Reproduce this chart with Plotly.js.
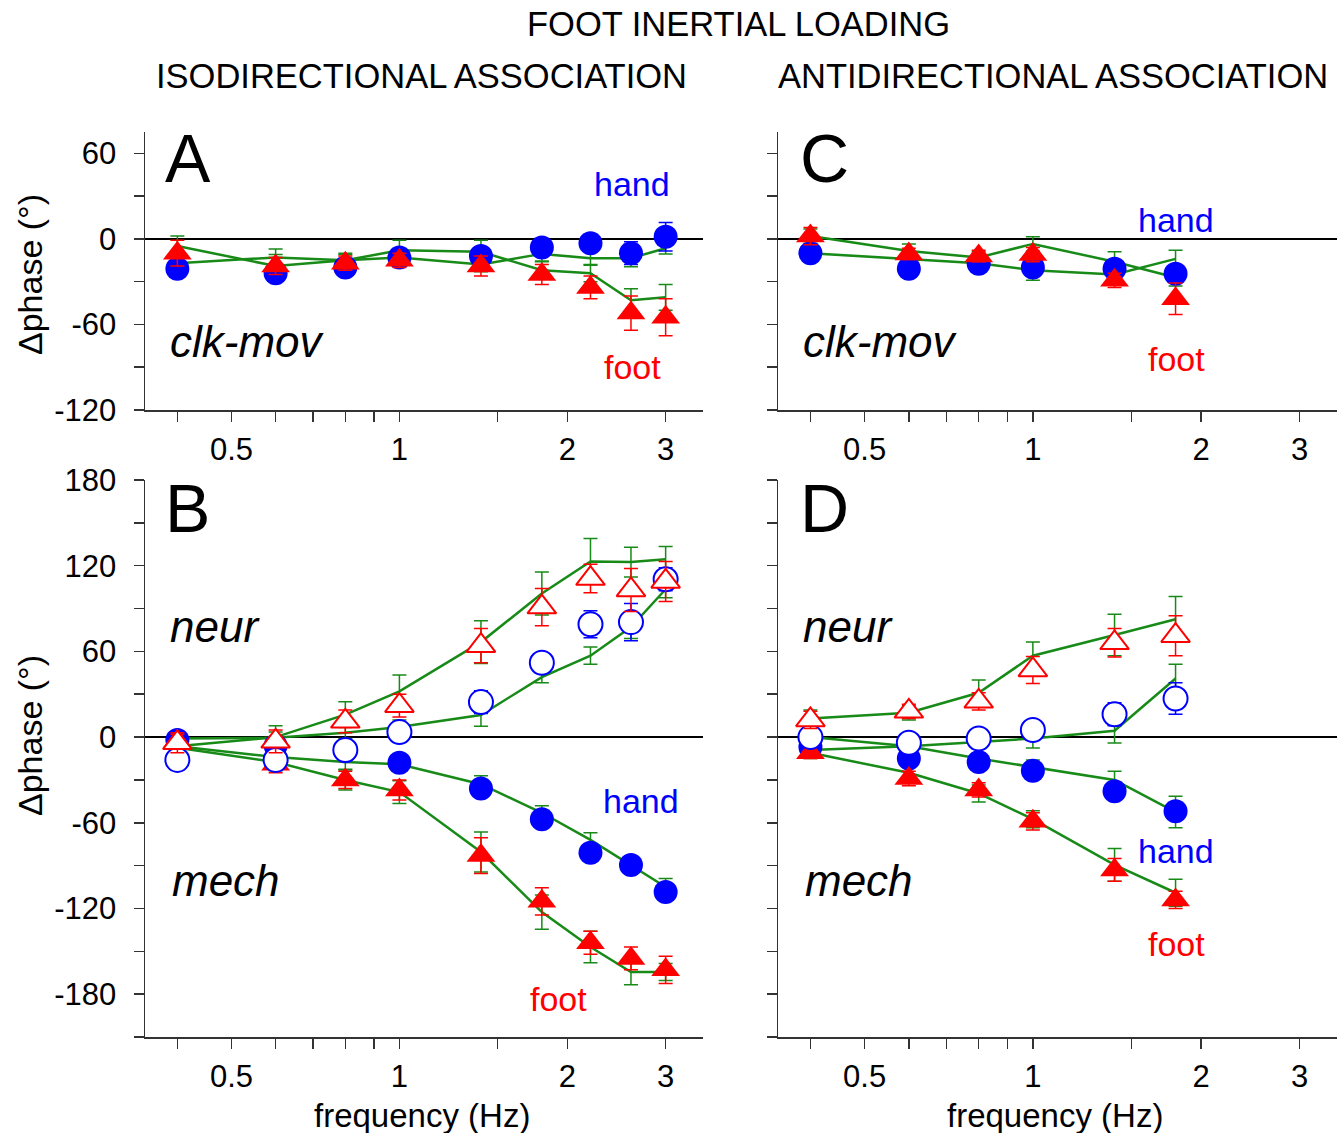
<!DOCTYPE html>
<html>
<head>
<meta charset="utf-8">
<script src="https://cdn.plot.ly/plotly-3.0.1.min.js"></script>
<style>html,body{margin:0;padding:0;background:#fff;}#chart{width:1342px;height:1133px;}</style>
</head>
<body>
<div id="chart"></div>
<script>
// ---------------- DATA ----------------
const freqIso = [0.4, 0.6, 0.8, 1.0, 1.4, 1.8, 2.2, 2.6, 3.0];
const freqAnti = [0.4, 0.6, 0.8, 1.0, 1.4, 1.8];

// Panel A: isodirectional, clk-mov
const A_hand = [-21, -24, -20, -13, -12, -6, -3, -10, 1.5];
const A_handErr = [4, 4, 4, 4, 5, 5, 5, 8, 10];
const A_foot = [-10, -19, -17, -15, -19, -25, -34, -52, -55];
const A_footErr = [9, 6, 5, 5, 7, 7, 8, 12, 13];
const A_handGreen = [-17, -13, -15, -13, -18, -10.5, -13.5, -13.5, -6.5];
const A_handGreenErr = [5, 6, 4, 5, 5, 5, 5, 6, 4];
const A_footGreen = [-5, -19, -15, -8, -9, -22, -24, -43, -41];
const A_footGreenErr = [7, 8, 5, 7, 8, 6, 6, 8, 9];

// Panel C: antidirectional, clk-mov
const C_hand = [-10, -21, -17.5, -20, -21, -24.5];
const C_handErr = [3, 4, 4, 6, 5, 5];
const C_foot = [2, -10.5, -12, -11, -29, -42];
const C_footErr = [6, 4, 4, 5, 5, 11];
const C_handGreen = [-10, -14, -17, -22, -25, -14];
const C_handGreenErr = [4, 4, 4, 7, 5, 6];
const C_footGreen = [2, -8.5, -13, -3.5, -16, -27];
const C_footGreenErr = [5, 5, 4, 5, 7, 6];

// Panel B: isodirectional, neur (open) and mech (filled)
const B_footNeur = [-4, -3, 11, 22, 64, 91, 111, 103, 109];
const B_footNeurErr = [7, 8, 8, 8, 12, 13, 10, 15, 14];
const B_handNeur = [-16, -16, -9, 3.5, 24.5, 52, 79, 80.5, 110.5];
const B_handNeurErr = [5, 5, 5, 5, 8, 6, 9.5, 13, 8];
const B_footNeurGreen = [-6.5, 0, 15.7, 32, 66.5, 100.5, 123, 122.5, 124.5];
const B_footNeurGreenErr = [8, 8, 9, 11.5, 15, 15, 16, 10.5, 9];
const B_handNeurGreen = [-1, -0.5, 3, 7, 15.5, 42, 57, 77, 103.5];
const B_handNeurGreenErr = [4, 4, 4, 5, 8, 4, 6, 8, 6];
const B_handMech = [-2, -6, -10, -18, -36, -57.5, -81, -89.5, -108.5];
const B_handMechErr = [4, 4, 4, 4, 5, 5, 5, 5, 5];
const B_handMechGreen = [-6.5, -14, -17.5, -19, -33, -53, -72, -90, -105];
const B_handMechGreenErr = [5, 5, 5, 5, 6, 5, 5, 6, 6];
const B_footMech = [-3, -19, -30, -37, -83, -115, -144, -155, -163];
const B_footMechErr = [5, 6, 6, 7, 12.5, 9.5, 8, 8, 9.5];
const B_footMechGreen = [-7.5, -17.5, -30, -38.5, -80.5, -122.5, -147, -164.5, -164.5];
const B_footMechGreenErr = [6, 6, 7, 8, 14, 12, 11, 9, 6];

// Panel D: antidirectional, neur and mech
const D_footNeur = [12, 18, 25, 47, 66, 71];
const D_footNeurErr = [6, 5, 6, 9.5, 10, 14];
const D_handNeur = [0, -4, -1, 5, 16, 27];
const D_handNeurErr = [4, 4, 4, 4, 8, 11];
const D_footNeurGreen = [13, 17, 31, 57, 71.5, 82.5];
const D_footNeurGreenErr = [6, 5, 9, 9.5, 14.5, 16];
const D_handNeurGreen = [-9, -6.5, -3.5, -1, 4.4, 41];
const D_handNeurGreenErr = [4, 4, 4, 6.6, 8.5, 10];
const D_handMech = [-7, -15, -17.5, -23.5, -38, -52];
const D_handMechErr = [4, 4, 5, 5, 5, 5];
const D_handMechGreen = [0, -6.5, -15, -21, -30, -52.5];
const D_handMechGreenErr = [4, 4, 4, 5, 6, 11];
const D_footMech = [-11, -29, -37, -59, -93, -114];
const D_footMechErr = [4, 5, 5, 6, 8, 6];
const D_footMechGreen = [-11, -25, -39.5, -57.5, -89.5, -109];
const D_footMechGreenErr = [4, 4, 6, 6, 11.5, 9.5];

// tick labels
const xTickVals = [0.4, 0.5, 0.6, 0.7, 0.8, 0.9, 1, 1.5, 2, 3];
const xTickText = ['', '0.5', '', '', '', '', '1', '', '2', '3'];
const yTickValsTop = [-120, -90, -60, -30, 0, 30, 60];
const yTickTextTop = ['-120', '', '-60', '', '0', '', '60'];
const yTickValsBot = [-210, -180, -150, -120, -90, -60, -30, 0, 30, 60, 90, 120, 150, 180];
const yTickTextBot = ['', '-180', '', '-120', '', '-60', '', '0', '', '60', '', '120', '', '180'];

// ---------------- STYLE ----------------
const BLUE = '#0000ff', RED = '#ff0000', GREEN = '#178a17';
const W = 1342, H = 1133;
const px = x => x / W;
const py = y => 1 - y / H;
const FONT = 'Liberation Sans, Arial, sans-serif';

function green(x, y, e, xa, ya) {
  return {type: 'scatter', mode: 'lines', x: x, y: y, xaxis: xa, yaxis: ya,
    line: {color: GREEN, width: 2.5}, hoverinfo: 'skip',
    error_y: {type: 'data', array: e, visible: true, color: GREEN, thickness: 1.5, width: 7}};
}
function marks(x, y, e, xa, ya, sym, col, open) {
  const isTri = sym === 'triangle-up';
  return {type: 'scatter', mode: 'markers', x: x, y: y, xaxis: xa, yaxis: ya,
    marker: {symbol: sym, size: isTri ? 25 : 24, color: open ? '#ffffff' : col,
      line: {color: col, width: open ? 2 : 0}},
    error_y: {type: 'data', array: e, visible: true, color: col, thickness: 1.5, width: 7}};
}

const traces = [
  // A
  green(freqIso, A_handGreen, A_handGreenErr, 'x', 'y'),
  green(freqIso, A_footGreen, A_footGreenErr, 'x', 'y'),
  marks(freqIso, A_hand, A_handErr, 'x', 'y', 'circle', BLUE, false),
  marks(freqIso, A_foot, A_footErr, 'x', 'y', 'triangle-up', RED, false),
  // C
  green(freqAnti, C_handGreen, C_handGreenErr, 'x2', 'y2'),
  green(freqAnti, C_footGreen, C_footGreenErr, 'x2', 'y2'),
  marks(freqAnti, C_hand, C_handErr, 'x2', 'y2', 'circle', BLUE, false),
  marks(freqAnti, C_foot, C_footErr, 'x2', 'y2', 'triangle-up', RED, false),
  // B
  green(freqIso, B_footNeurGreen, B_footNeurGreenErr, 'x3', 'y3'),
  green(freqIso, B_handNeurGreen, B_handNeurGreenErr, 'x3', 'y3'),
  green(freqIso, B_handMechGreen, B_handMechGreenErr, 'x3', 'y3'),
  green(freqIso, B_footMechGreen, B_footMechGreenErr, 'x3', 'y3'),
  marks(freqIso, B_handMech, B_handMechErr, 'x3', 'y3', 'circle', BLUE, false),
  marks(freqIso, B_footMech, B_footMechErr, 'x3', 'y3', 'triangle-up', RED, false),
  marks(freqIso, B_handNeur, B_handNeurErr, 'x3', 'y3', 'circle', BLUE, true),
  marks(freqIso, B_footNeur, B_footNeurErr, 'x3', 'y3', 'triangle-up', RED, true),
  // D
  green(freqAnti, D_footNeurGreen, D_footNeurGreenErr, 'x4', 'y4'),
  green(freqAnti, D_handNeurGreen, D_handNeurGreenErr, 'x4', 'y4'),
  green(freqAnti, D_handMechGreen, D_handMechGreenErr, 'x4', 'y4'),
  green(freqAnti, D_footMechGreen, D_footMechGreenErr, 'x4', 'y4'),
  marks(freqAnti, D_handMech, D_handMechErr, 'x4', 'y4', 'circle', BLUE, false),
  marks(freqAnti, D_footMech, D_footMechErr, 'x4', 'y4', 'triangle-up', RED, false),
  marks(freqAnti, D_handNeur, D_handNeurErr, 'x4', 'y4', 'circle', BLUE, true),
  marks(freqAnti, D_footNeur, D_footNeurErr, 'x4', 'y4', 'triangle-up', RED, true)
];

function xax(domain, anchor) {
  return {type: 'log', domain: domain, anchor: anchor,
    range: [Math.log10(0.35), Math.log10(3.5)],
    tickmode: 'array', tickvals: xTickVals, ticktext: xTickText,
    ticks: 'outside', ticklen: 10, tickwidth: 1.5, tickcolor: '#333',
    showline: true, linecolor: '#333', linewidth: 1.5,
    showgrid: false, zeroline: false, ticklabelstandoff: 1,
    tickfont: {family: FONT, size: 31, color: '#000'}, fixedrange: true};
}
function yax(domain, anchor, range, vals, text, showLabels) {
  return {domain: domain, anchor: anchor, range: range,
    tickmode: 'array', tickvals: vals, ticktext: text, showticklabels: showLabels,
    ticks: 'outside', ticklen: 10, tickwidth: 1.5, tickcolor: '#333',
    showline: true, linecolor: '#333', linewidth: 1.5,
    showgrid: false, zeroline: true, zerolinecolor: '#000', zerolinewidth: 1.2,
    ticklabelstandoff: 11,
    tickfont: {family: FONT, size: 31, color: '#000'}, fixedrange: true};
}

const xLeft = [px(145), px(703)], xRight = [px(778), px(1337)];
const yTop = [py(410), py(132)], yBot = [py(1037), py(480)];

function ann(text, x, y, size, opts) {
  return Object.assign({text: text, x: px(x), y: py(y), xref: 'paper', yref: 'paper',
    showarrow: false, xanchor: 'center', yanchor: 'middle',
    font: {family: FONT, size: size, color: '#000'}}, opts || {});
}
const it = s => '<i>' + s + '</i>';

const annotations = [
  ann('FOOT INERTIAL LOADING', 738, 24, 34.5),
  ann('ISODIRECTIONAL ASSOCIATION', 421, 76, 34.5),
  ann('ANTIDIRECTIONAL ASSOCIATION', 1053, 76, 34.5),
  ann('A', 163, 158, 68, {xanchor: 'left'}),
  ann('C', 798, 158, 68, {xanchor: 'left'}),
  ann('B', 163, 508, 68, {xanchor: 'left'}),
  ann('D', 798, 508, 68, {xanchor: 'left'}),
  ann(it('clk-mov'), 168, 342, 44, {xanchor: 'left'}),
  ann(it('clk-mov'), 801, 342, 44, {xanchor: 'left'}),
  ann(it('neur'), 168, 626, 44, {xanchor: 'left'}),
  ann(it('mech'), 170, 880, 44, {xanchor: 'left'}),
  ann(it('neur'), 801, 626, 44, {xanchor: 'left'}),
  ann(it('mech'), 803, 880, 44, {xanchor: 'left'}),
  ann('hand', 632, 184, 34, {font: {family: FONT, size: 34, color: BLUE}}),
  ann('foot', 632, 367, 34, {font: {family: FONT, size: 34, color: RED}}),
  ann('hand', 1176, 220, 34, {font: {family: FONT, size: 34, color: BLUE}}),
  ann('foot', 1176, 359, 34, {font: {family: FONT, size: 34, color: RED}}),
  ann('hand', 641, 801, 34, {font: {family: FONT, size: 34, color: BLUE}}),
  ann('foot', 558, 999, 34, {font: {family: FONT, size: 34, color: RED}}),
  ann('hand', 1176, 851, 34, {font: {family: FONT, size: 34, color: BLUE}}),
  ann('foot', 1176, 944, 34, {font: {family: FONT, size: 34, color: RED}}),
  ann('Δphase (°)', 30, 275, 34, {textangle: -90}),
  ann('Δphase (°)', 30, 736, 34, {textangle: -90}),
  ann('frequency (Hz)', 422, 1115, 33),
  ann('frequency (Hz)', 1055, 1115, 33)
];

const layout = {
  width: W, height: H, margin: {l: 0, r: 0, t: 0, b: 0},
  paper_bgcolor: '#fff', plot_bgcolor: '#fff', showlegend: false,
  font: {family: FONT, color: '#000'},
  xaxis: xax(xLeft, 'y'),
  yaxis: yax(yTop, 'x', [-120, 75], yTickValsTop, yTickTextTop, true),
  xaxis2: xax(xRight, 'y2'),
  yaxis2: yax(yTop, 'x2', [-120, 75], yTickValsTop, yTickTextTop, false),
  xaxis3: xax(xLeft, 'y3'),
  yaxis3: yax(yBot, 'x3', [-210, 180], yTickValsBot, yTickTextBot, true),
  xaxis4: xax(xRight, 'y4'),
  yaxis4: yax(yBot, 'x4', [-210, 180], yTickValsBot, yTickTextBot, false),
  annotations: annotations
};

Plotly.newPlot('chart', traces, layout, {staticPlot: true, displayModeBar: false});
</script>
</body>
</html>
